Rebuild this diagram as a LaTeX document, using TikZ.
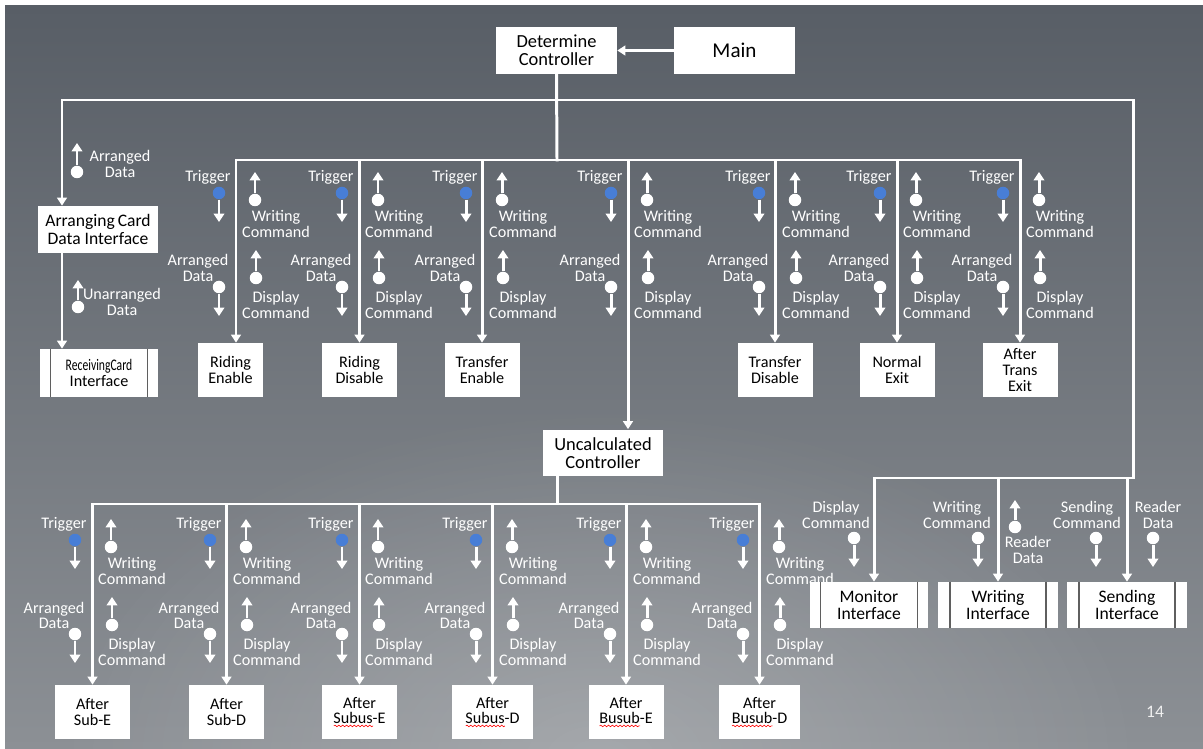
\documentclass[tikz,border=0pt]{standalone}
\usepackage{fontspec}
\setmainfont{Carlito}
\usetikzlibrary{arrows.meta,decorations.pathmorphing,fadings}

\definecolor{bgtop}{RGB}{88,94,102}
\definecolor{bgbot}{RGB}{140,144,149}
\definecolor{trig}{RGB}{72,126,214}
\definecolor{barline}{RGB}{95,95,95}

\tikzfading[name=glow, inner color=transparent!0, outer color=transparent!100]

\tikzset{
	wire/.style={white, line width=1.7pt, line cap=rect},
	link/.style={wire, -{Triangle[width=5.6pt,length=4.6pt]}},
	flowarrow/.style={white, line width=1.7pt, -{Triangle[width=6pt,length=4.8pt]}},
	flowdot/.style={circle, inner sep=0pt, minimum size=0.25cm},
	lab/.style={text=white, align=center, inner sep=0pt, font=\fontsize{9.2}{8.6}\selectfont},
	box/.style={fill=white, text=black, align=center, inner sep=1pt, minimum width=1.5cm, minimum height=1.08cm, font=\fontsize{9.2}{8.6}\selectfont},
	bigbox/.style={box, minimum width=2.42cm, minimum height=0.94cm, font=\fontsize{10.5}{10.2}\selectfont}
}

% data couple: name, x, y of the circle, signed length, fill
\newcommand{\flow}[5]{%
	\node[flowdot, fill=#5] (#1) at (#2,#3) {};
	\coordinate (#1-tip) at (#2,{#3+(#4)});
	\draw[flowarrow] (#1) -- (#1-tip);
}

% couples next to one module line: prefix, x of the line, y shift
\newcommand{\couples}[3]{%
	\node[lab] (#1tl) at (#2-28,177+#3) {Trigger};
	\flow{#1t}{#2-17}{193+#3}{29}{trig}
	\flow{#1w}{#2+19}{200+#3}{-28}{white}
	\node[lab] (#1wl) at (#2+40,224+#3) {Writing\\Command};
	\node[lab] (#1al) at (#2-38,268+#3) {Arranged\\Data};
	\flow{#1a}{#2-17}{287+#3}{29}{white}
	\flow{#1d}{#2+20}{278+#3}{-28}{white}
	\node[lab] (#1dl) at (#2+40,305+#3) {Display\\Command};
}

% inner side bars of an interface box
\newcommand{\sidebars}[2]{%
	\draw[barline, line width=0.8pt] ([xshift=#2]#1.north west) -- ([xshift=#2]#1.south west);
	\draw[barline, line width=0.8pt] ([xshift=-#2]#1.north east) -- ([xshift=-#2]#1.south east);
}

% red spell-check wave under a word
\newcommand{\redwave}[1]{\setbox0\hbox{#1}\rlap{\raisebox{-2.2pt}{\tikz\draw[red, line width=0.35pt, decorate, decoration={snake, amplitude=0.45pt, segment length=2.2pt}] (0pt,0pt) -- (\wd0,0pt);}}#1}

\begin{document}
\begin{tikzpicture}[x=0.02cm, y=-0.02cm]
		\useasboundingbox (0,0) rectangle (1203,749);
		\fill[white] (0,0) rectangle (1203,749);
		\shade[top color=bgtop, bottom color=bgbot] (5,6) rectangle (1203,749);
		\begin{scope}
			\clip (5,6) rectangle (1203,749);
			\fill[white, opacity=0.22, path fading=glow] (600,760) ellipse [x radius=11cm, y radius=7cm];
		\end{scope}
		
		% boxes
		\node[bigbox] (det) at (556.5,50.5) {Determine\\Controller};
		\node[bigbox, font=\fontsize{12}{13}\selectfont] (main) at (734.5,50.5) {Main};
		\node[bigbox, minimum width=2.4cm, font=\fontsize{10}{9.8}\selectfont] (arr) at (98,229.5) {Arranging\,Card\\Data Interface};
		\node[box, minimum width=2.36cm, minimum height=0.96cm] (recv) at (99,373) {\scalebox{0.72}[1]{ReceivingCard}\\Interface};
		\sidebars{recv}{0.22cm}
		
		\node[box, minimum width=1.3cm] (re) at (230.5,370) {Riding\\Enable};
		\node[box] (rd) at (359.5,370) {Riding\\Disable};
		\node[box] (te) at (482,370) {Transfer\\Enable};
		\node[box] (td) at (775,370) {Transfer\\Disable};
		\node[box] (ne) at (897,370) {Normal\\Exit};
		\node[box, font=\fontsize{9.2}{9}\selectfont] (ate) at (1020,370) {After\\Trans\\Exit};
		
		\node[bigbox, minimum width=2.4cm] (unc) at (603,453) {Uncalculated\\Controller};
		
		\node[box] (as) at (92.5,712) {After\\Sub-E};
		\node[box] (sd) at (226.5,712) {After\\Sub-D};
		\node[box] (sue) at (359.5,712) {After\\\redwave{Subus}-E};
		\node[box, minimum width=1.62cm] (sud) at (492.5,712) {After\\\redwave{Subus}-D};
		\node[box] (bue) at (626,712) {After\\\redwave{Busub}-E};
		\node[box, minimum width=1.62cm] (bud) at (759.5,712) {After\\\redwave{Busub}-D};
		
		\node[bigbox, minimum width=2.36cm, minimum height=0.92cm, font=\fontsize{10}{9.8}\selectfont] (mon) at (869,605) {Monitor\\Interface};
		\node[bigbox, minimum width=2.4cm, minimum height=0.92cm, font=\fontsize{10}{9.8}\selectfont] (wri) at (998,605) {Writing\\Interface};
		\node[bigbox, minimum width=2.4cm, minimum height=0.92cm, font=\fontsize{10}{9.8}\selectfont] (sen) at (1127,605) {Sending\\Interface};
		\sidebars{mon}{0.22cm}
		\sidebars{wri}{0.25cm}
		\sidebars{sen}{0.25cm}
		
		% junctions
		\coordinate (b0) at (557,100);
		\coordinate (bl) at (62,100);
		\coordinate (rb) at (1133,478);
		\coordinate (mb) at (874,478);
		\coordinate (t0) at (557,160);
		\coordinate (c1) at (236,160);
		\coordinate (u0) at (628,160);
		\coordinate (u1) at (557,504);
		
		% connectors
		\draw[link] (main) -- (det);
		\draw[wire] (det.south) -- (t0);
		\draw[link] (b0) -| (arr.north -| bl);
		\draw[link] (arr.south -| bl) -- (recv.north -| bl);
		\draw[link] (b0) -| (rb) -| (mon.north -| mb);
		\draw[link] (wri.north |- rb) -- (wri.north);
		\draw[link] (sen.north |- rb) -- (sen.north);
		
		\draw[link] (t0) -| (re.north -| c1);
		\draw[link] (rd.north |- t0) -- (rd.north);
		\draw[link] (te.north |- t0) -- (te.north);
		\draw[link] (t0 -| u0) -- (unc.north -| u0);
		\draw[link] (td.north |- t0) -- (td.north);
		\draw[link] (ne.north |- t0) -- (ne.north);
		\draw[link] (t0) -| (ate.north);
		
		\draw[wire] (unc.south -| u1) -- (u1);
		\draw[link] (u1) -| (as.north);
		\draw[link] (sd.north |- u1) -- (sd.north);
		\draw[link] (sue.north |- u1) -- (sue.north);
		\draw[link] (sud.north |- u1) -- (sud.north);
		\draw[link] (bue.north |- u1) -- (bue.north);
		\draw[link] (u1) -| (bud.north);
		
		% data couples
		\flow{aa}{77}{172}{-29}{white}
		\node[lab] (aal) at (120,164) {Arranged\\Data};
		\flow{ua}{78}{307}{-27}{white}
		\node[lab] (ual) at (122,302) {Unarranged\\Data};
		
		\couples{p}{236}{0}
		\couples{q}{359}{0}
		\couples{r}{483}{0}
		\couples{s}{628}{0}
		\couples{t}{776}{0}
		\couples{u}{897}{0}
		\couples{v}{1020}{0}
		
		\couples{g}{92}{347}
		\couples{h}{227}{347}
		\couples{i}{359}{347}
		\couples{j}{493}{347}
		\couples{k}{627}{347}
		\couples{l}{760}{347}
		
		\node[lab] (mdl) at (836,515) {Display\\Command};
		\flow{md}{854}{538}{29}{white}
		\node[lab] (wwl) at (957,515) {Writing\\Command};
		\flow{ww}{978}{538}{29}{white}
		\flow{wr}{1015}{527}{-27}{white}
		\node[lab] (wrl) at (1028,550) {Reader\\Data};
		\node[lab] (ssl) at (1087,515) {Sending\\Command};
		\flow{ss}{1096}{538}{29}{white}
		\node[lab] (srl) at (1158,515) {Reader\\Data};
		\flow{sr}{1153}{538}{29}{white}
		
		\node[text=white!88!gray, font=\fontsize{10}{12}\selectfont] (page) at (1155,712) {14};
\end{tikzpicture}
\end{document}
